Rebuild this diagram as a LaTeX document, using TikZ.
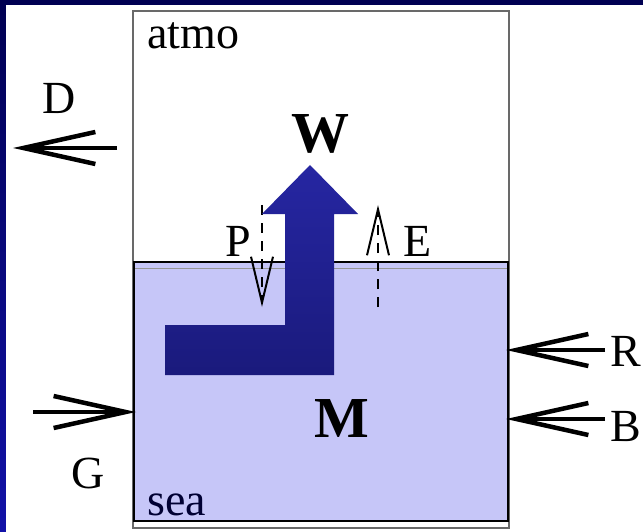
\documentclass[tikz,border=0pt]{standalone}
\usepackage{fontspec}
\setmainfont{Liberation Serif}
\usetikzlibrary{arrows.meta}
\definecolor{bgtop}{RGB}{0,0,82}
\definecolor{bgbot}{RGB}{18,18,168}
\definecolor{seafill}{RGB}{198,198,248}
\definecolor{flowtop}{RGB}{38,38,162}
\definecolor{flowbot}{RGB}{26,26,124}
\definecolor{boxedge}{RGB}{105,105,105}
\tikzset{
  lbl/.style={font=\fontsize{46}{50}\selectfont, inner sep=0pt, anchor=base},
  big/.style={font=\fontsize{58}{62}\selectfont\bfseries, inner sep=0pt, anchor=base},
  flux/.style={-{Straight Barb[length=72pt,width=32pt]}, line width=4.5pt},
  wflux/.style={-{Straight Barb[length=46pt,width=22pt]}, line width=2pt,
    dash pattern=on 10pt off 8pt}
}

\begin{document}
\begin{tikzpicture}[x=1pt,y=-1pt]
  \useasboundingbox (0,0) rectangle (643,532);
  \shade[top color=bgtop, bottom color=bgbot] (0,0) rectangle (643,532);
  \fill[white] (6,5) rectangle (643,532);

  % boxes
  \draw[boxedge, line width=2pt] (133,11) rectangle (509,528);
  \filldraw[fill=seafill, draw=black, line width=2pt] (134,262) rectangle (508,521);
  \draw[boxedge!70, line width=1pt] (135,268) -- (507,268);

  % labels
  \node[lbl, anchor=base west] (atmo) at (147,49) {atmo};
  \node[lbl, anchor=base west, text=black!80!blue] (sea) at (147,515) {sea};
  \node[lbl] (dlab) at (59,114) {D};
  \node[lbl] (plab) at (238,256) {P};
  \node[lbl] (elab) at (418,256) {E};
  \node[lbl] (rlab) at (626,366) {R};
  \node[lbl] (blab) at (626,441) {B};
  \node[lbl] (glab) at (88,488) {G};
  \node[big] (wlab) at (320,153) {W};
  \node[big] (mlab) at (342,437) {M};

  % boundary fluxes
  \coordinate (dtail) at (117,148);
  \coordinate (dtip) at (13,148);
  \coordinate (gtail) at (33,412);
  \coordinate (gtip) at (136,412);
  \coordinate (rtail) at (605,350);
  \coordinate (rtip) at (506,350);
  \coordinate (btail) at (605,419);
  \coordinate (btip) at (506,419);
  \draw[flux] (dtail) -- (dtip);
  \draw[flux] (gtail) -- (gtip);
  \draw[flux] (rtail) -- (rtip);
  \draw[flux] (btail) -- (btip);

  % surface fluxes
  \coordinate (ptop) at (262,205);
  \coordinate (pbot) at (262,307);
  \coordinate (etop) at (378,205);
  \coordinate (ebot) at (378,307);
  \draw[wflux] (ptop) -- (pbot);
  \draw[wflux] (ebot) -- (etop);

  % transport M -> W
  \shade[top color=flowtop, bottom color=flowbot]
    (165,325) -- (285,325) -- (285,214) -- (262,214) -- (310,165)
    -- (358,214) -- (334,214) -- (334,375) -- (165,375) -- cycle;
\end{tikzpicture}
\end{document}
